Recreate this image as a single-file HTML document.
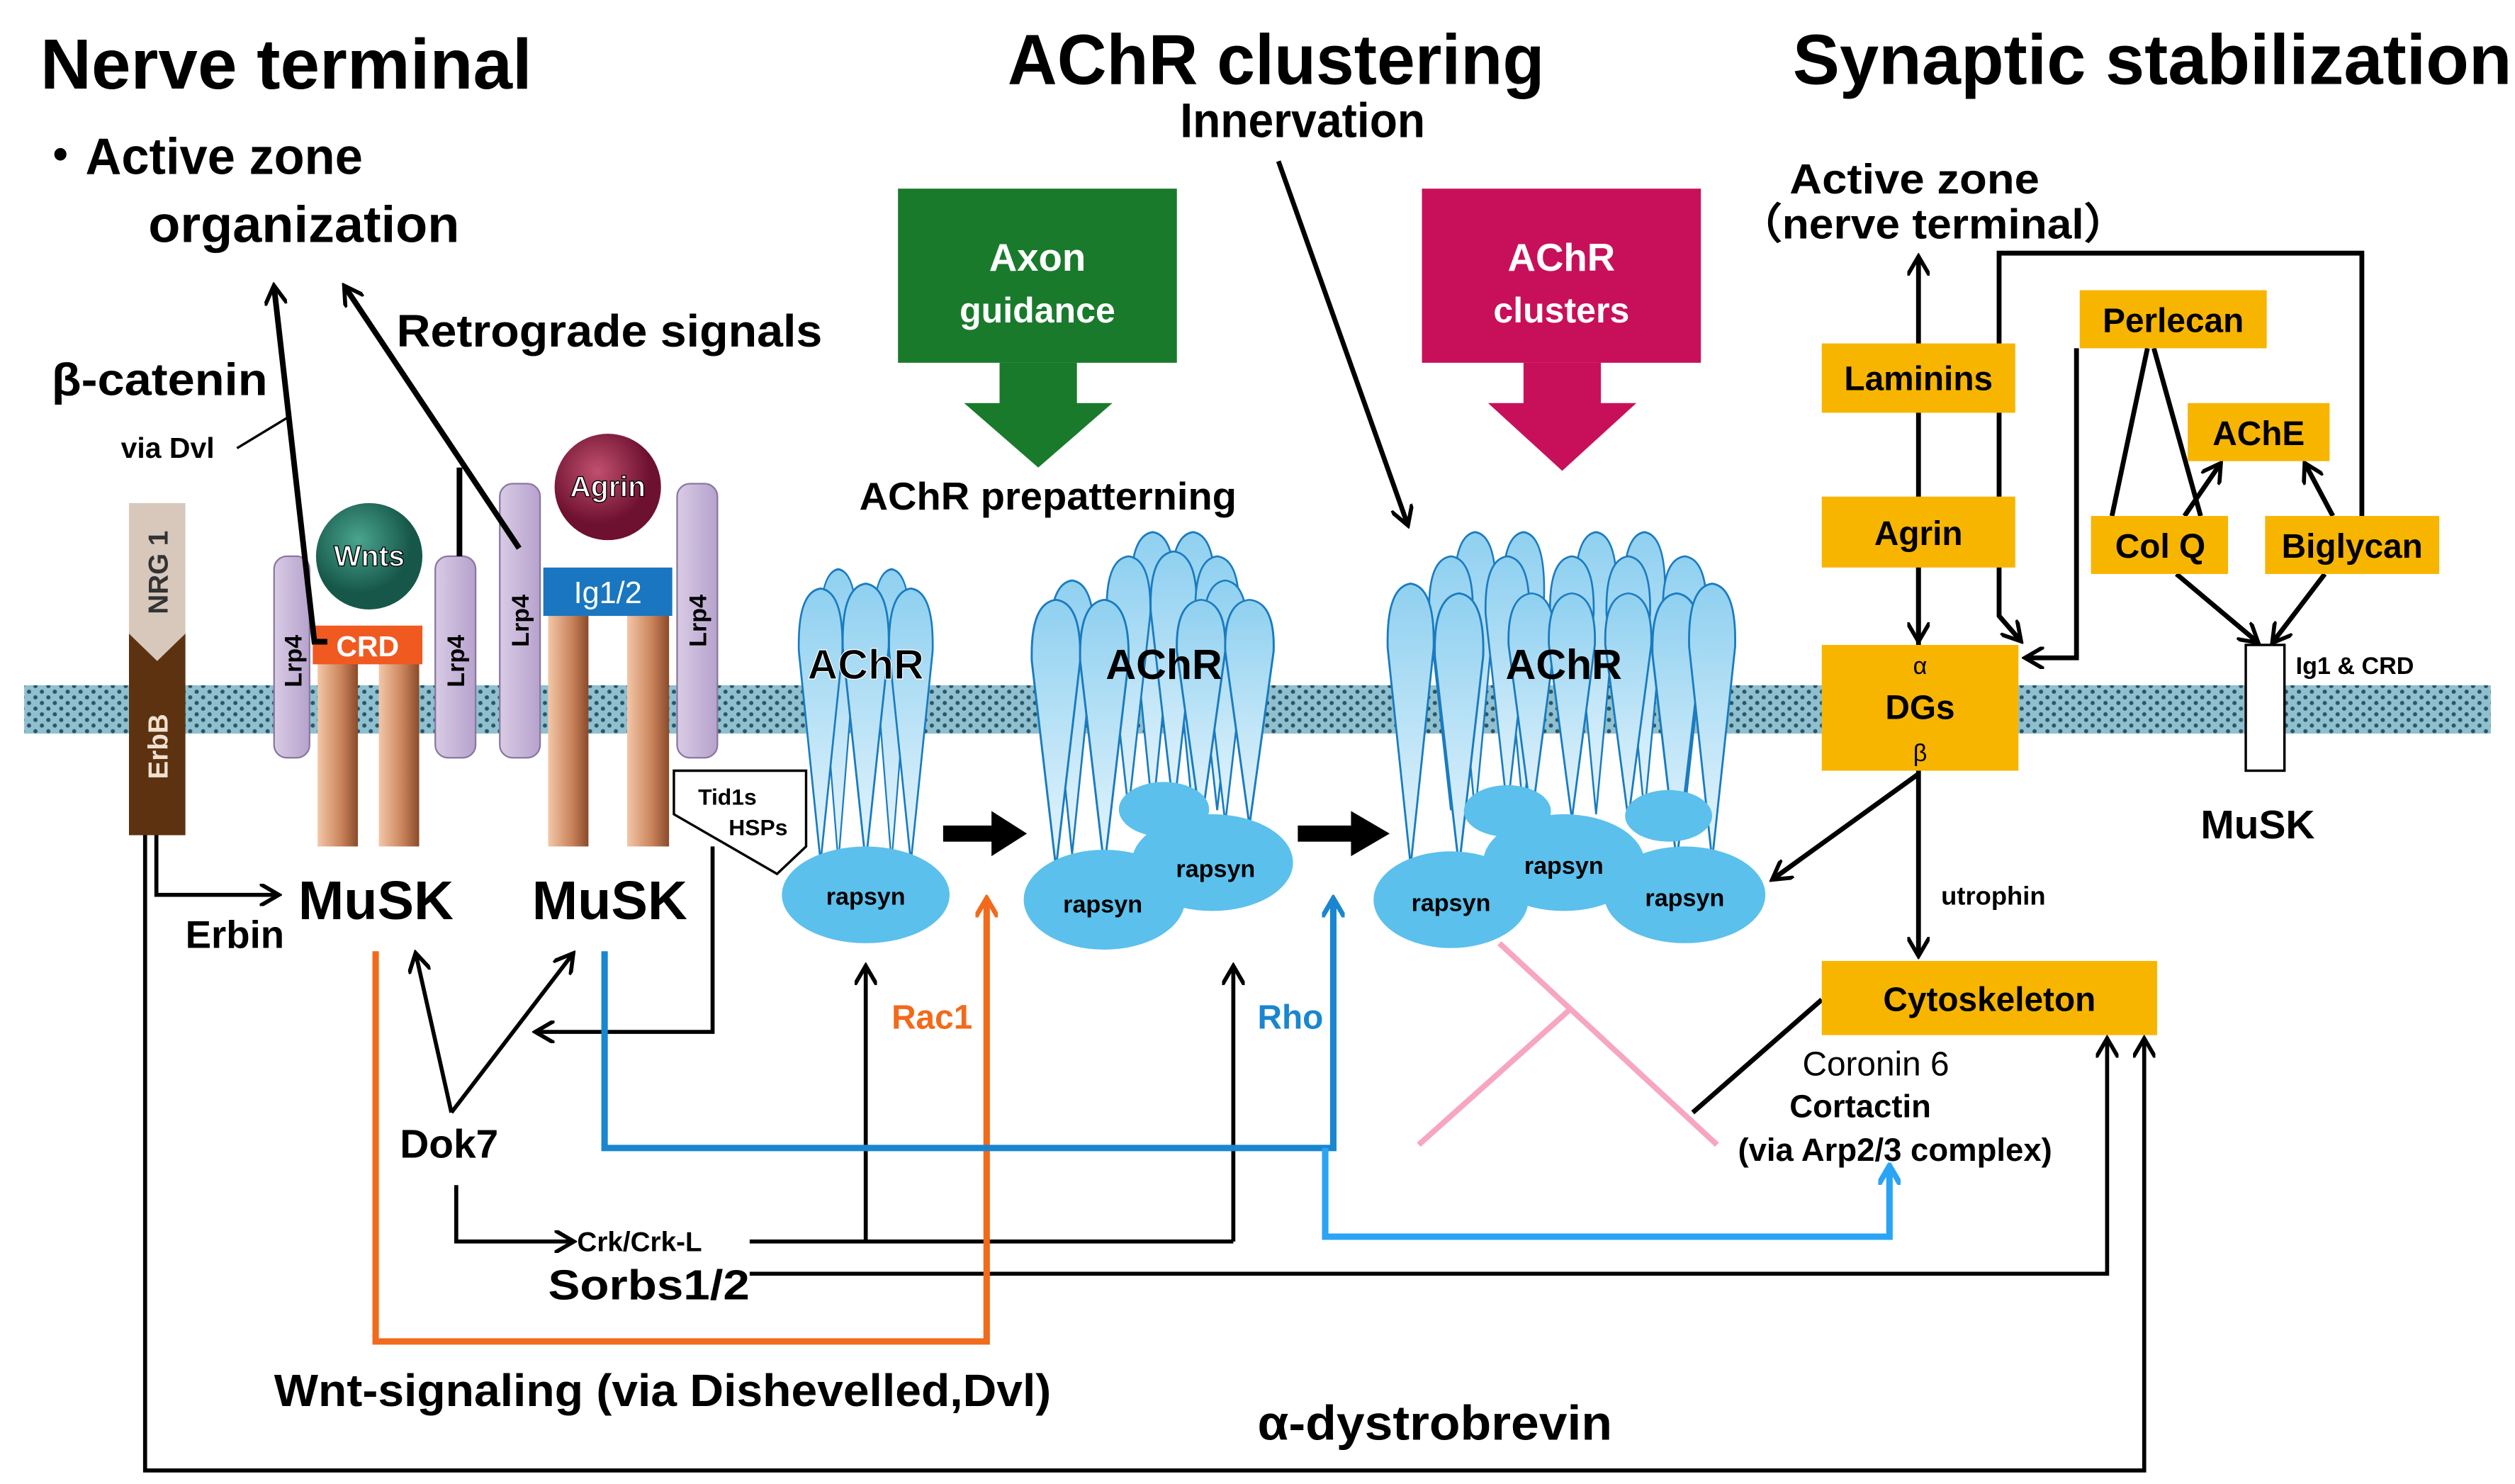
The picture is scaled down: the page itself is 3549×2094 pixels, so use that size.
<!DOCTYPE html>
<html><head><meta charset="utf-8"><style>
html,body{margin:0;padding:0;background:#fff}
svg{display:block}
text{font-family:"Liberation Sans",sans-serif}
</style></head><body>
<svg width="3549" height="2094" viewBox="0 0 1560 920.4" preserveAspectRatio="none" xmlns="http://www.w3.org/2000/svg">
<defs>
<pattern id="dots" width="8" height="7" patternUnits="userSpaceOnUse">
<rect width="8" height="7" fill="#8fc0cf"/>
<circle cx="2" cy="2" r="1.3" fill="#2d5566"/><circle cx="6" cy="5.5" r="1.3" fill="#2d5566"/>
</pattern>
<linearGradient id="cu" x1="0" x2="1"><stop offset="0" stop-color="#f3c7a8"/><stop offset="0.6" stop-color="#c8825a"/><stop offset="1" stop-color="#8a4a2a"/></linearGradient>
<linearGradient id="lp" x1="0" x2="1"><stop offset="0" stop-color="#d9cbe5"/><stop offset="1" stop-color="#b6a2cc"/></linearGradient>
<linearGradient id="cone" x1="0" x2="0" y1="0" y2="1"><stop offset="0" stop-color="#8fd0f0"/><stop offset="1" stop-color="#e8f6fd"/></linearGradient>
<radialGradient id="wn" cx="0.4" cy="0.35"><stop offset="0" stop-color="#4aa58e"/><stop offset="1" stop-color="#16574a"/></radialGradient>
<radialGradient id="ag" cx="0.4" cy="0.35"><stop offset="0" stop-color="#c0506e"/><stop offset="1" stop-color="#6e1030"/></radialGradient>
<marker id="ah" markerWidth="10" markerHeight="10" refX="8" refY="5" orient="auto" markerUnits="userSpaceOnUse"><path d="M0,0 L9,5 L0,10" fill="none" stroke="#000" stroke-width="2.5"/></marker>
<marker id="ahL" markerWidth="14" markerHeight="14" refX="11" refY="7" orient="auto" markerUnits="userSpaceOnUse"><path d="M0,0 L12,7 L0,14" fill="none" stroke="#000" stroke-width="2.5"/></marker>
<marker id="ahO" markerWidth="14" markerHeight="14" refX="11" refY="7" orient="auto" markerUnits="userSpaceOnUse"><path d="M0,0 L12,7 L0,14" fill="none" stroke="#f26a1b" stroke-width="3"/></marker>
<marker id="ahB" markerWidth="14" markerHeight="14" refX="11" refY="7" orient="auto" markerUnits="userSpaceOnUse"><path d="M0,0 L12,7 L0,14" fill="none" stroke="#1a86d0" stroke-width="3"/></marker>
<marker id="ahB2" markerWidth="14" markerHeight="14" refX="11" refY="7" orient="auto" markerUnits="userSpaceOnUse"><path d="M0,0 L12,7 L0,14" fill="none" stroke="#2aa4f4" stroke-width="3.5"/></marker>
<g id="c"><path d="M-15,40 Q-16,2 0,0 Q16,2 15,40 L0,175 Z" fill="url(#cone)" stroke="#1a7bc0" stroke-width="1.3"/></g>
</defs>

<!-- membrane -->
<rect x="15" y="425" width="1530" height="30" fill="url(#dots)"/>

<!-- Titles -->
<text x="25" y="55" font-size="44" font-weight="bold" textLength="305" lengthAdjust="spacingAndGlyphs">Nerve terminal</text>
<text x="625" y="52" font-size="44" font-weight="bold" textLength="333" lengthAdjust="spacingAndGlyphs">AChR clustering</text>
<text x="1112" y="52" font-size="44" font-weight="bold" textLength="446" lengthAdjust="spacingAndGlyphs">Synaptic stabilization</text>
<text x="732" y="85" font-size="30" font-weight="bold" textLength="152" lengthAdjust="spacingAndGlyphs">Innervation</text>
<text x="22" y="108" font-size="32" font-weight="bold" textLength="203" lengthAdjust="spacingAndGlyphs">・Active zone</text>
<text x="92" y="150" font-size="32" font-weight="bold" textLength="193" lengthAdjust="spacingAndGlyphs">organization</text>
<text x="246" y="215" font-size="28" font-weight="bold" textLength="264" lengthAdjust="spacingAndGlyphs">Retrograde signals</text>
<text x="32" y="245" font-size="28" font-weight="bold" textLength="134" lengthAdjust="spacingAndGlyphs">β-catenin</text>
<text x="75" y="284" font-size="18" font-weight="bold">via Dvl</text>
<line x1="147" y1="278" x2="180" y2="258" stroke="#000" stroke-width="1.5"/>

<!-- Axon guidance / AChR clusters boxes -->
<rect x="557" y="117" width="173" height="108" fill="#1a7a2c"/>
<text x="643.5" y="168" font-size="24" font-weight="bold" fill="#fff" text-anchor="middle">Axon</text>
<text x="643.5" y="200" font-size="22" font-weight="bold" fill="#fff" text-anchor="middle">guidance</text>
<path d="M620,225 H668 V250 H690 L644,290 L598,250 H620 Z" fill="#1a7a2c"/>
<rect x="882" y="117" width="173" height="108" fill="#c8105a"/>
<text x="968.5" y="168" font-size="24" font-weight="bold" fill="#fff" text-anchor="middle">AChR</text>
<text x="968.5" y="200" font-size="22" font-weight="bold" fill="#fff" text-anchor="middle">clusters</text>
<path d="M945,225 H993 V250 H1015 L969,292 L923,250 H945 Z" fill="#c8105a"/>
<text x="533" y="316" font-size="24" font-weight="bold" textLength="234" lengthAdjust="spacingAndGlyphs">AChR prepatterning</text>
<line x1="793" y1="100" x2="873" y2="325" stroke="#000" stroke-width="3" marker-end="url(#ahL)"/>

<!-- NRG1 / ErbB -->
<path d="M80,312 H115 V395 L97.5,410 L80,395 Z" fill="#d8c8bc"/>
<path d="M80,393 L97.5,410 L115,393 V518 H80 Z" fill="#5c3210"/>
<text transform="translate(104,355) rotate(-90)" font-size="17" font-weight="bold" text-anchor="middle" fill="#333">NRG 1</text>
<text transform="translate(104,463) rotate(-90)" font-size="17" font-weight="bold" text-anchor="middle" fill="#f0e0d0">ErbB</text>

<!-- Lrp4 cylinders -->
<g stroke="#8a78a0" stroke-width="1" fill="url(#lp)">
<rect x="170" y="345" width="22" height="125" rx="8"/>
<rect x="270" y="345" width="25" height="125" rx="8"/>
<rect x="310" y="300" width="25" height="170" rx="8"/>
<rect x="420" y="300" width="25" height="170" rx="8"/>
</g>
<g font-size="15" font-weight="bold">
<text transform="translate(187,410) rotate(-90)" text-anchor="middle">Lrp4</text>
<text transform="translate(288,410) rotate(-90)" text-anchor="middle">Lrp4</text>
<text transform="translate(328,385) rotate(-90)" text-anchor="middle">Lrp4</text>
<text transform="translate(438,385) rotate(-90)" text-anchor="middle">Lrp4</text>
</g>
<!-- MuSK stems -->
<rect x="197" y="410" width="25" height="115" fill="url(#cu)"/>
<rect x="235" y="410" width="25" height="115" fill="url(#cu)"/>
<rect x="340" y="380" width="25" height="145" fill="url(#cu)"/>
<rect x="389" y="380" width="26" height="145" fill="url(#cu)"/>
<rect x="194" y="388" width="68" height="24" fill="#f05a20"/>
<text x="228" y="407" font-size="18" font-weight="bold" fill="#fff" text-anchor="middle">CRD</text>
<circle cx="229" cy="345" r="33" fill="url(#wn)"/>
<text x="229" y="351" font-size="18" font-weight="bold" fill="#fff" stroke="#000" stroke-width="0.6" text-anchor="middle">Wnts</text>
<rect x="337" y="352" width="80" height="30" fill="#1a76c0"/>
<text x="377" y="374" font-size="19" fill="#fff" text-anchor="middle">Ig1/2</text>
<circle cx="377" cy="302" r="33" fill="url(#ag)"/>
<text x="377" y="308" font-size="18" font-weight="bold" fill="#fff" stroke="#000" stroke-width="0.6" text-anchor="middle">Agrin</text>
<polygon points="418,478 500,478 500,525 482,542 418,505" fill="#fff" stroke="#000" stroke-width="1.5"/>
<text x="433" y="499" font-size="14" font-weight="bold">Tid1s</text>
<text x="452" y="518" font-size="14" font-weight="bold">HSPs</text>
<text x="185" y="570" font-size="34" font-weight="bold">MuSK</text>
<text x="330" y="570" font-size="34" font-weight="bold">MuSK</text>

<!-- left black lines -->
<g stroke="#000" stroke-width="3.5" fill="none">
<path d="M203,398 L195,398 L170,178" marker-end="url(#ahL)"/>
<path d="M322,340 L214,178" marker-end="url(#ahL)"/>
<line x1="285" y1="290" x2="285" y2="345"/>
</g>
<g stroke="#000" stroke-width="2.5" fill="none">
<path d="M90,518 V912 H1330 V645" marker-end="url(#ahL)"/>
<path d="M97,518 V555 H172" marker-end="url(#ahL)"/>
<path d="M442,525 V640 H333" marker-end="url(#ahL)"/>
<path d="M280,690 L258,592" marker-end="url(#ahL)"/>
<path d="M280,690 L355,592" marker-end="url(#ahL)"/>
<path d="M283,735 V770 H355" marker-end="url(#ahL)"/>
<line x1="465" y1="770" x2="765" y2="770"/>
<path d="M537,770 V600" marker-end="url(#ahL)"/>
<path d="M765,770 V600" marker-end="url(#ahL)"/>
<path d="M465,790 H1307 V645" marker-end="url(#ahL)"/>
</g>
<text x="115" y="588" font-size="24" font-weight="bold">Erbin</text>
<text x="248" y="718" font-size="25" font-weight="bold">Dok7</text>
<text x="358" y="776" font-size="17" font-weight="bold">Crk/Crk-L</text>
<text x="340" y="806" font-size="26" font-weight="bold" textLength="125" lengthAdjust="spacingAndGlyphs">Sorbs1/2</text>
<text x="170" y="872" font-size="28" font-weight="bold" textLength="482" lengthAdjust="spacingAndGlyphs">Wnt-signaling (via Dishevelled,Dvl)</text>
<text x="780" y="893" font-size="30" font-weight="bold" textLength="220" lengthAdjust="spacingAndGlyphs">α-dystrobrevin</text>

<!-- colored lines -->
<path d="M233,590 V832 H612 V558" stroke="#f26a1b" stroke-width="4" fill="none" marker-end="url(#ahO)"/>
<path d="M375,590 V712 H827 V558" stroke="#1a86d0" stroke-width="4" fill="none" marker-end="url(#ahB)"/>
<path d="M822,712 V767 H1172 V724" stroke="#2aa4f4" stroke-width="4" fill="none" marker-end="url(#ahB2)"/>
<text x="553" y="638" font-size="21" font-weight="bold" fill="#f26a1b">Rac1</text>
<text x="780" y="638" font-size="21" font-weight="bold" fill="#1a86d0">Rho</text>

<!-- block arrows -->
<path d="M585,512 H615 V503 L637,517 L615,531 V522 H585 Z" fill="#000"/>
<path d="M805,512 H838 V503 L862,517 L838,531 V522 H805 Z" fill="#000"/>

<!-- Cluster 1 -->
<g>
<use href="#c" transform="translate(520,353) scale(0.75,1.04)"/>
<use href="#c" transform="translate(553,353) scale(0.75,1.04)"/>
<use href="#c" transform="translate(509,365) scale(0.9,0.97)"/>
<use href="#c" transform="translate(565,365) scale(0.9,0.97)"/>
<use href="#c" transform="translate(537,362) scale(0.95,0.99)"/>
<ellipse cx="537" cy="555" rx="52" ry="30" fill="#5bc0ec"/>
<text x="537" y="561" font-size="15" font-weight="bold" text-anchor="middle">rapsyn</text>
<text x="537" y="421" font-size="26" font-weight="bold" text-anchor="middle" fill="#000" stroke="#fff" stroke-width="0.5">AChR</text>
</g>

<!-- Cluster 2 -->
<g>
<use href="#c" transform="translate(715,330) scale(0.9,1.0)"/>
<use href="#c" transform="translate(740,330) scale(0.9,1.0)"/>
<use href="#c" transform="translate(700,345) scale(0.9,0.9)"/>
<use href="#c" transform="translate(728,342) scale(0.95,0.92)"/>
<use href="#c" transform="translate(755,345) scale(0.9,0.9)"/>
<use href="#c" transform="translate(665,360) scale(0.9,0.97)"/>
<use href="#c" transform="translate(760,360) scale(0.9,0.86)"/>
<use href="#c" transform="translate(655,372) scale(1.0,0.95)"/>
<use href="#c" transform="translate(685,372) scale(1.0,0.95)"/>
<use href="#c" transform="translate(745,372) scale(1.0,0.8)"/>
<use href="#c" transform="translate(775,372) scale(1.0,0.8)"/>
<ellipse cx="722" cy="502" rx="28" ry="17" fill="#5bc0ec"/>
<ellipse cx="752" cy="535" rx="50" ry="30" fill="#5bc0ec"/>
<ellipse cx="685" cy="558" rx="50" ry="31" fill="#5bc0ec"/>
<text x="754" y="544" font-size="15" font-weight="bold" text-anchor="middle">rapsyn</text>
<text x="684" y="566" font-size="15" font-weight="bold" text-anchor="middle">rapsyn</text>
<text x="722" y="421" font-size="26" font-weight="bold" text-anchor="middle">AChR</text>
</g>

<!-- Cluster 3 -->
<g>
<use href="#c" transform="translate(915,330) scale(0.85,1.0)"/>
<use href="#c" transform="translate(945,330) scale(0.85,1.0)"/>
<use href="#c" transform="translate(990,330) scale(0.85,1.0)"/>
<use href="#c" transform="translate(1020,330) scale(0.85,1.0)"/>
<use href="#c" transform="translate(900,345) scale(0.9,0.9)"/>
<use href="#c" transform="translate(935,345) scale(0.9,0.9)"/>
<use href="#c" transform="translate(975,345) scale(0.9,0.9)"/>
<use href="#c" transform="translate(1010,345) scale(0.9,0.9)"/>
<use href="#c" transform="translate(1045,345) scale(0.9,0.9)"/>
<use href="#c" transform="translate(875,362) scale(0.95,1.0)"/>
<use href="#c" transform="translate(905,368) scale(1.0,0.97)"/>
<use href="#c" transform="translate(950,368) scale(0.95,0.8)"/>
<use href="#c" transform="translate(975,368) scale(0.95,0.8)"/>
<use href="#c" transform="translate(1010,368) scale(0.95,0.8)"/>
<use href="#c" transform="translate(1040,368) scale(1.0,0.95)"/>
<use href="#c" transform="translate(1062,362) scale(0.95,0.98)"/>
<ellipse cx="935" cy="503" rx="27" ry="16" fill="#5bc0ec"/>
<ellipse cx="1035" cy="506" rx="27" ry="16" fill="#5bc0ec"/>
<ellipse cx="970" cy="535" rx="50" ry="30" fill="#5bc0ec"/>
<ellipse cx="900" cy="558" rx="48" ry="30" fill="#5bc0ec"/>
<ellipse cx="1045" cy="555" rx="50" ry="30" fill="#5bc0ec"/>
<text x="970" y="542" font-size="15" font-weight="bold" text-anchor="middle">rapsyn</text>
<text x="900" y="565" font-size="15" font-weight="bold" text-anchor="middle">rapsyn</text>
<text x="1045" y="562" font-size="15" font-weight="bold" text-anchor="middle">rapsyn</text>
<text x="970" y="421" font-size="26" font-weight="bold" text-anchor="middle">AChR</text>
</g>

<!-- pink lines -->
<line x1="930" y1="585" x2="1065" y2="710" stroke="#f7a6c0" stroke-width="3.5"/>
<line x1="880" y1="710" x2="975" y2="625" stroke="#f7a6c0" stroke-width="3.5"/>

<!-- Right side -->
<text x="1110" y="120" font-size="26" font-weight="bold" textLength="155" lengthAdjust="spacingAndGlyphs">Active zone</text>
<text x="1078" y="148" font-size="26" font-weight="bold" textLength="242" lengthAdjust="spacingAndGlyphs">（nerve terminal）</text>
<g stroke="#000" stroke-width="3" fill="none">
<path d="M1190,400 V160" marker-end="url(#ahL)"/>
<path d="M1190,352 V397" marker-end="url(#ahL)"/>
<path d="M1465,322 V157 H1240 V382 L1253,397" marker-end="url(#ahL)"/>
<path d="M1288,216 V408 H1257" marker-end="url(#ahL)"/>
<line x1="1332" y1="216" x2="1310" y2="320"/>
<line x1="1336" y1="216" x2="1365" y2="320"/>
<path d="M1355,320 L1377,288" marker-end="url(#ahL)"/>
<path d="M1447,320 L1430,288" marker-end="url(#ahL)"/>
<path d="M1350,356 L1400,398" marker-end="url(#ahL)"/>
<path d="M1442,356 L1410,398" marker-end="url(#ahL)"/>
<path d="M1190,480 L1100,545" marker-end="url(#ahL)"/>
<path d="M1190,478 V592" marker-end="url(#ahL)"/>
<line x1="1130" y1="620" x2="1050" y2="690"/>
</g>
<g fill="#f7b500">
<rect x="1130" y="213" width="120" height="43"/>
<rect x="1130" y="308" width="120" height="44"/>
<rect x="1130" y="400" width="122" height="78"/>
<rect x="1290" y="180" width="116" height="36"/>
<rect x="1357" y="250" width="88" height="36"/>
<rect x="1297" y="320" width="85" height="36"/>
<rect x="1405" y="320" width="108" height="36"/>
<rect x="1130" y="596" width="208" height="46"/>
</g>
<g font-size="21" font-weight="bold" text-anchor="middle">
<text x="1190" y="242">Laminins</text>
<text x="1190" y="338">Agrin</text>
<text x="1191" y="446">DGs</text>
<text x="1348" y="206">Perlecan</text>
<text x="1401" y="276">AChE</text>
<text x="1340" y="346">Col Q</text>
<text x="1459" y="346">Biglycan</text>
<text x="1234" y="627">Cytoskeleton</text>
</g>
<text x="1191" y="418" font-size="15" text-anchor="middle" font-family="Liberation Serif">α</text>
<text x="1191" y="472" font-size="15" text-anchor="middle" font-family="Liberation Serif">β</text>
<rect x="1393" y="400" width="24" height="78" fill="#fff" stroke="#000" stroke-width="1.5"/>
<text x="1424" y="418" font-size="15" font-weight="bold">Ig1 &amp; CRD</text>
<text x="1365" y="520" font-size="25" font-weight="bold">MuSK</text>
<text x="1204" y="561" font-size="16" font-weight="bold">utrophin</text>
<text x="1118" y="667" font-size="21">Coronin 6</text>
<text x="1110" y="693" font-size="20" font-weight="bold">Cortactin</text>
<text x="1078" y="720" font-size="20" font-weight="bold">(via Arp2/3 complex)</text>
</svg>
</body></html>
